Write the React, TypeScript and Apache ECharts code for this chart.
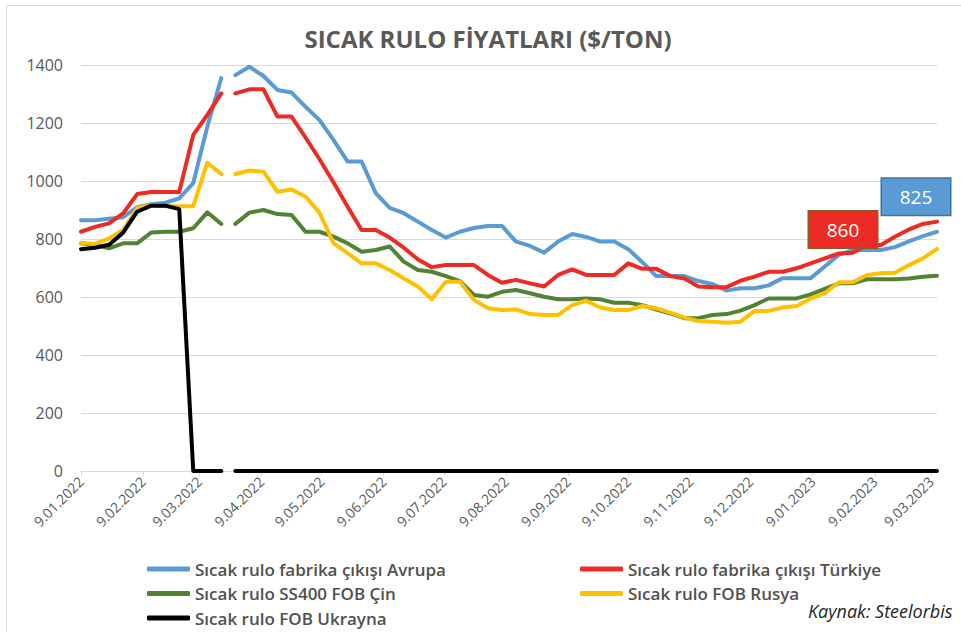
import React, { useEffect, useRef } from "react";
import * as echarts from "echarts";

// ---- Data (weekly, from 9.01.2022) ----
const START_UTC = Date.UTC(2022, 0, 9);
const DAY_COUNT = 428; // 9.01.2022 .. 12.03.2023
const WEEK_STEP = 7;
const GAP_DAY = 73; // missing observation in source data (breaks the lines)
const GAP_AFTER_INDEX = 10;

const SERIES_NAMES = [
  "Sıcak rulo fabrika çıkışı Avrupa",
  "Sıcak rulo fabrika çıkışı Türkiye",
  "Sıcak rulo SS400 FOB Çin",
  "Sıcak rulo FOB Rusya",
  "Sıcak rulo FOB Ukrayna",
];

const avrupa = [
  865, 865, 870, 875, 910, 920, 925, 940, 993, 1187, 1355, 1365, 1394, 1362, 1314, 1305,
  1256, 1210, 1141, 1067, 1067, 958, 907, 889, 860, 831, 805, 825, 838, 845, 845, 791,
  776, 753, 791, 817, 807, 791, 791, 765, 720, 672, 672, 672, 655, 645, 622, 630,
  630, 640, 665, 665, 665, 705, 745, 762, 762, 762, 772, 792, 810, 825,
];
const turkiye = [
  825, 842, 854, 888, 955, 962, 962, 962, 1159, 1228, 1302, 1302, 1316, 1316, 1222, 1222,
  1150, 1075, 995, 911, 831, 831, 805, 770, 730, 703, 710, 710, 710, 676, 649, 659,
  647, 636, 676, 695, 676, 676, 676, 716, 697, 697, 672, 664, 636, 634, 634, 656,
  670, 687, 687, 699, 716, 733, 750, 753, 779, 779, 808, 833, 852, 860,
];
const cin = [
  785, 779, 768, 785, 785, 822, 825, 825, 837, 892, 852, 852, 891, 900, 886, 883,
  825, 825, 808, 785, 756, 762, 774, 722, 693, 687, 672, 655, 607, 601, 618, 624,
  613, 601, 592, 592, 595, 592, 580, 580, 572, 557, 544, 527, 527, 538, 541, 553,
  572, 595, 595, 595, 609, 628, 647, 647, 661, 661, 661, 664, 670, 673,
];
const rusya = [
  787, 783, 802, 831, 906, 917, 913, 913, 913, 1063, 1024, 1024, 1036, 1032, 963, 971,
  946, 890, 785, 751, 716, 716, 693, 664, 636, 592, 653, 653, 590, 561, 555, 557,
  541, 538, 538, 572, 587, 564, 555, 555, 569, 561, 546, 529, 517, 515, 511, 515,
  552, 552, 564, 569, 595, 613, 651, 651, 676, 682, 684, 710, 733, 766,
];
const ukrayna = [
  765, 770, 780, 822, 894, 915, 915, 903, 0, 0, 0, 0, 0, 0, 0, 0,
  0, 0, 0, 0, 0, 0, 0, 0, 0, 0, 0, 0, 0, 0, 0, 0,
  0, 0, 0, 0, 0, 0, 0, 0, 0, 0, 0, 0, 0, 0, 0, 0,
  0, 0, 0, 0, 0, 0, 0, 0, 0, 0, 0, 0, 0, 0,
];

const COLORS = ["#5B9BD5", "#EE2A24", "#548235", "#FFC000", "#000000"];
const Y_MIN = 0;
const Y_MAX = 1400;
const Y_STEP = 200;

const FONT = "'Open Sans', 'Noto Sans', sans-serif";

function pad2(n: number) {
  return n < 10 ? "0" + n : "" + n;
}

const dayCategories: string[] = [];
for (let d = 0; d < DAY_COUNT; d++) {
  const dt = new Date(START_UTC + d * 86400000);
  dayCategories.push(`${dt.getUTCDate()}.${pad2(dt.getUTCMonth() + 1)}.${dt.getUTCFullYear()}`);
}

function isMonthTick(_index: number, value: string) {
  return value.startsWith("9.");
}

function toPoints(values: number[], lastLabel?: any) {
  const pts: any[] = values.map((v, i) => [i * WEEK_STEP, v]);
  if (lastLabel) {
    const last = pts[pts.length - 1];
    pts[pts.length - 1] = { value: last, label: lastLabel };
  }
  pts.splice(GAP_AFTER_INDEX + 1, 0, [GAP_DAY, "-"]);
  return pts;
}

function boxLabel(text: string, bg: string, border: string, offset: number[]) {
  return {
    show: true,
    position: "inside",
    formatter: text,
    offset,
    color: "#FFFFFF",
    fontFamily: FONT,
    fontSize: 19,
    backgroundColor: bg,
    borderColor: border,
    borderWidth: 1.5,
    width: 68,
    height: 36,
    lineHeight: 36,
    align: "center",
    verticalAlign: "middle",
    padding: 0,
  };
}

export default function App() {
  const ref = useRef<HTMLDivElement>(null);

  useEffect(() => {
    if (!ref.current) return;
    const chart = echarts.init(ref.current, undefined, { renderer: "svg" });

    const allValues = [avrupa, turkiye, cin, rusya, ukrayna];
    const labels: any[] = [
      boxLabel("825", "#5B9BD5", "#41719C", [-21, -35]),
      boxLabel("860", "#EE2A24", "#8B5A2B", [-94, 8]),
      undefined,
      undefined,
      undefined,
    ];

    const series = SERIES_NAMES.map((name, i) => ({
      name,
      type: "line",
      data: toPoints(allValues[i], labels[i]),
      showSymbol: true,
      showAllSymbol: true,
      symbol: "circle",
      symbolSize: 1,
      itemStyle: { color: COLORS[i] },
      lineStyle: { color: COLORS[i], width: 4, cap: "round", join: "round" },
      connectNulls: false,
      silent: true,
      z: 2 + i,
    }));

    const legendCommon = {
      orient: "vertical",
      icon: "roundRect",
      itemWidth: 43,
      itemHeight: 5,
      itemGap: 6.5,
      padding: 0,
      height: 80,
      selectedMode: false,
      textStyle: {
        fontFamily: FONT,
        fontSize: 17,
        fontWeight: 600,
        color: "#505050",
        lineHeight: 18,
      },
    };

    chart.setOption({
      animation: false,
      backgroundColor: "#FFFFFF",
      legend: [
        { ...legendCommon, left: 147, top: 560, data: [SERIES_NAMES[0], SERIES_NAMES[2], SERIES_NAMES[4]] },
        { ...legendCommon, left: 580, top: 560, data: [SERIES_NAMES[1], SERIES_NAMES[3]] },
      ],
      grid: { left: 81, right: 24, top: 65, bottom: 161, containLabel: false },
      xAxis: {
        type: "category",
        data: dayCategories,
        boundaryGap: false,
        axisLine: { show: true, lineStyle: { color: "#D9D9D9", width: 1 } },
        axisTick: { show: true, interval: isMonthTick, length: 5, lineStyle: { color: "#D9D9D9" } },
        axisLabel: {
          interval: isMonthTick,
          rotate: 45,
          margin: 8,
          fontFamily: FONT,
          fontSize: 14,
          color: "#595959",
        },
        splitLine: { show: false },
      },
      yAxis: {
        type: "value",
        min: Y_MIN,
        max: Y_MAX,
        interval: Y_STEP,
        axisLine: { show: false },
        axisTick: { show: false },
        axisLabel: {
          margin: 18,
          fontFamily: FONT,
          fontSize: 16,
          color: "#595959",
          formatter: (v: number) => String(v),
        },
        splitLine: { show: true, lineStyle: { color: "#D9D9D9", width: 1 } },
      },
      graphic: [
        {
          type: "rect",
          z: -10,
          shape: { x: 6.5, y: 5.5, width: 1000, height: 700 },
          style: { fill: "none", stroke: "#D9D9D9", lineWidth: 1 },
          silent: true,
        },
        {
          type: "text",
          x: 488,
          y: 38,
          style: {
            text: "SICAK RULO FİYATLARI ($/TON)",
            fill: "#595959",
            font: `bold 24px ${FONT}`,
            align: "center",
            verticalAlign: "middle",
          },
        },
        {
          type: "text",
          x: 808,
          y: 611,
          style: {
            text: "Kaynak: Steelorbis",
            fill: "#262626",
            font: `italic 18px ${FONT}`,
            align: "left",
            verticalAlign: "middle",
          },
        },
      ],
      series,
    });

    return () => chart.dispose();
  }, []);

  return (
    <div
      ref={ref}
      style={{ position: "fixed", left: 0, top: 0, width: 961, height: 632, background: "#fff" }}
    />
  );
}
